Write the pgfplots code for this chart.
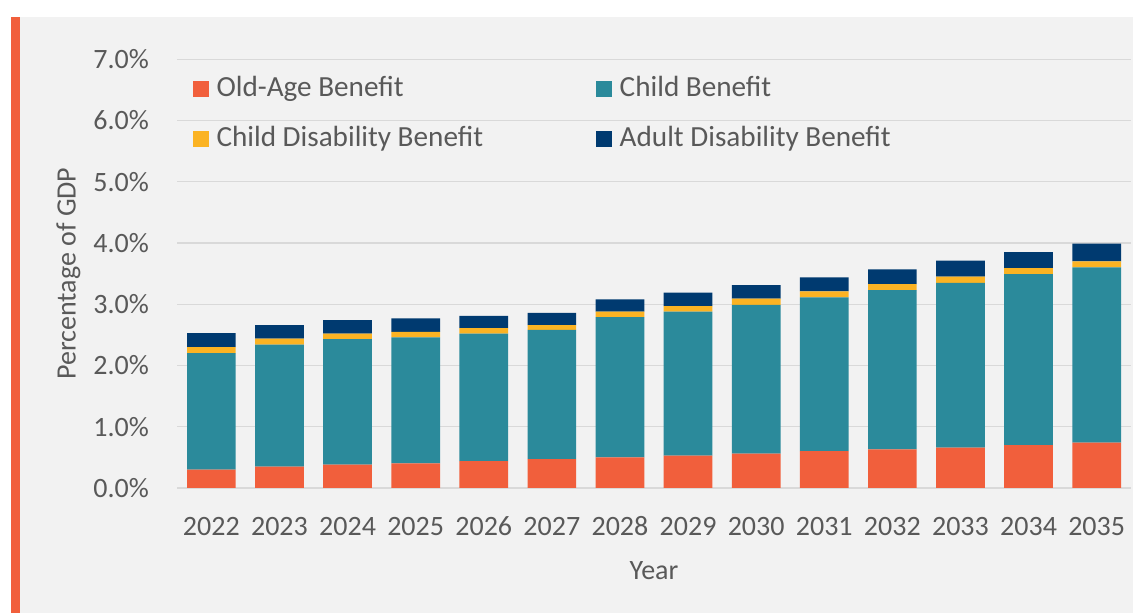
\documentclass[border=0pt]{standalone}
\usepackage{fontspec}
\setmainfont{Carlito}
\usepackage{pgfplots}
\pgfplotsset{compat=1.18}
\definecolor{bgpanel}{HTML}{F2F2F2}
\definecolor{stripe}{HTML}{F15F3C}
\definecolor{cOld}{HTML}{F15F3C}
\definecolor{cChild}{HTML}{2B8A9B}
\definecolor{cCD}{HTML}{FBB323}
\definecolor{cAD}{HTML}{003A70}
\definecolor{gridc}{HTML}{D9D9D9}
\definecolor{txt}{HTML}{595959}
\begin{document}
\fontsize{14pt}{17pt}\selectfont
\begin{tikzpicture}
\fill[white] (0,0) rectangle (567pt,306.5pt);
\fill[bgpanel] (10pt,0) rectangle (566.5pt,298pt);
\fill[stripe] (5.5pt,0) rectangle (10pt,298pt);
\begin{axis}[
  at={(88.65pt,62.5pt)}, anchor=south west,
  scale only axis, width=476.7pt, height=214.4pt,
  ybar stacked, bar width=24.35pt,
  xmin=-0.5, xmax=13.5, ymin=0, ymax=7,
  xtick={0,...,13},
  xticklabels={2022,2023,2024,2025,2026,2027,2028,2029,2030,2031,2032,2033,2034,2035},
  ytick={0,...,7},
  yticklabels={0.0\%,1.0\%,2.0\%,3.0\%,4.0\%,5.0\%,6.0\%,7.0\%},
  major tick length=0pt,
  axis line style={draw=none},
  ymajorgrids, grid style={gridc, line width=0.65pt},
  xticklabel style={anchor=base, inner sep=0pt, yshift=-23.65pt, text=txt},
  yticklabel style={anchor=east, inner sep=0pt, xshift=-14pt, text=txt},
  xlabel={Year},
  xlabel style={at={(axis description cs:0.5,0)}, anchor=north, inner sep=0pt, yshift=-36.35pt, text=txt},
  ylabel={Percentage of GDP},
  ylabel style={at={(axis description cs:-0.1141,0.5)}, anchor=center, inner sep=0pt, text=txt},
  legend columns=2,
  legend image code/.code={\fill[#1] (0pt,-0.2pt) rectangle (8.2pt,8pt);},
  legend style={at={(axis description cs:0,1)}, anchor=north west, xshift=7.7pt, yshift=-8.75pt,
    inner sep=0pt, outer sep=0pt, draw=none, fill=none, row sep=12pt,
    font=\fontsize{14.6pt}{17pt}\selectfont,
    nodes={inner sep=0pt, text height=10pt, text depth=3pt, anchor=base west, text=txt},
    /tikz/every odd column/.append style={column sep=3.7pt},
    /tikz/every even column/.append style={column sep=56.4pt}},
  legend cell align=left,
]
\addplot[fill=cOld, draw=none] coordinates {(0,0.30) (1,0.35) (2,0.38) (3,0.40) (4,0.44) (5,0.47) (6,0.50) (7,0.53) (8,0.56) (9,0.60) (10,0.63) (11,0.66) (12,0.70) (13,0.74)};
\addlegendentry{Old-Age Benefit}
\addplot[fill=cChild, draw=none] coordinates {(0,1.90) (1,1.99) (2,2.05) (3,2.06) (4,2.08) (5,2.11) (6,2.29) (7,2.35) (8,2.43) (9,2.51) (10,2.60) (11,2.69) (12,2.79) (13,2.86)};
\addlegendentry{Child Benefit}
\addplot[fill=cCD, draw=none] coordinates {(0,0.10) (1,0.10) (2,0.09) (3,0.09) (4,0.09) (5,0.08) (6,0.09) (7,0.09) (8,0.10) (9,0.10) (10,0.10) (11,0.10) (12,0.10) (13,0.10)};
\addlegendentry{Child Disability Benefit}
\addplot[fill=cAD, draw=none] coordinates {(0,0.23) (1,0.22) (2,0.22) (3,0.22) (4,0.20) (5,0.20) (6,0.20) (7,0.22) (8,0.22) (9,0.23) (10,0.24) (11,0.26) (12,0.26) (13,0.29)};
\addlegendentry{Adult Disability Benefit}
\end{axis}
\pgfresetboundingbox
\path[use as bounding box] (0,0) rectangle (567pt,306.5pt);
\end{tikzpicture}
\end{document}
